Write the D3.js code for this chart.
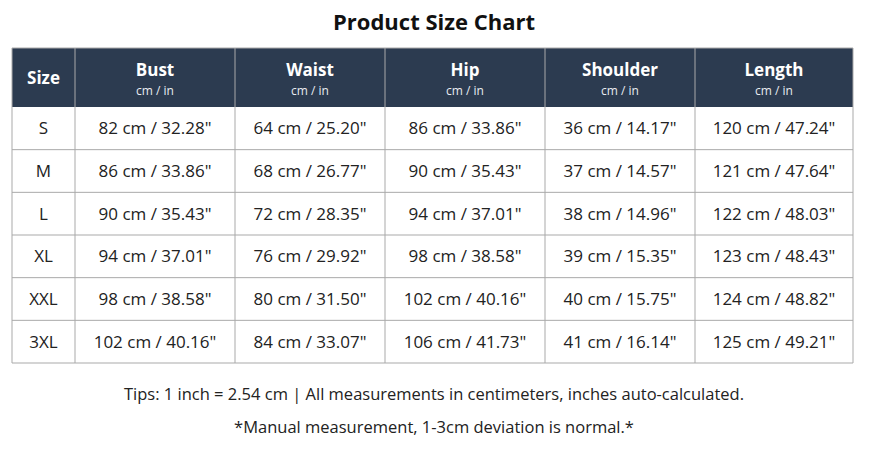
<!DOCTYPE html>
<html><head><meta charset="utf-8">
<script src="https://cdn.jsdelivr.net/npm/d3@7"></script>
<style>body{margin:0;background:#fff}text{font-family:"Open Sans","Noto Sans",sans-serif}</style>
</head><body>
<svg id="chart" width="869" height="456"></svg>
<script>
"use strict";

let columns = ["Size", "Bust", "Waist", "Hip", "Shoulder", "Length"]
let sizes = ["S", "M", "L", "XL", "XXL", "3XL"]
let bust = [82, 86, 90, 94, 98, 102]
let waist = [64, 68, 72, 76, 80, 84]
let hip = [86, 90, 94, 98, 102, 106]
let shoulder = [36, 37, 38, 39, 40, 41]
let length = [120, 121, 122, 123, 124, 125]
let colEdges = [12, 75, 235, 385, 545, 695, 853]

let svg = d3.select("#chart")
let fmt = cm => cm + " cm / " + (cm / 2.54).toFixed(2) + '"'

svg.append("text").attr("x", 434).attr("y", 30).attr("text-anchor", "middle")
  .attr("font-size", 22).attr("font-weight", 700).attr("fill", "#111").text("Product Size Chart")

let tableTop = 48, headH = 59
let y = d3.scaleBand().domain(sizes).range([tableTop + headH, 363])

// header
svg.append("rect").attr("x", 12).attr("y", tableTop).attr("width", 841).attr("height", headH).attr("fill", "#2c3b50")
columns.forEach((c, i) => {
  let cx = (colEdges[i] + colEdges[i + 1]) / 2
  if (i == 0) {
    svg.append("text").attr("x", cx).attr("y", tableTop + 36).attr("text-anchor", "middle")
      .attr("font-size", 17).attr("font-weight", 700).attr("fill", "#fff").text(c)
  } else {
    svg.append("text").attr("x", cx).attr("y", tableTop + 28).attr("text-anchor", "middle")
      .attr("font-size", 17).attr("font-weight", 700).attr("fill", "#fff").text(c)
    svg.append("text").attr("x", cx).attr("y", tableTop + 47).attr("text-anchor", "middle")
      .attr("font-size", 12).attr("fill", "#e8ecf0").text("cm / in")
  }
})

// body rows
let rows = sizes.map((s, i) => [s, fmt(bust[i]), fmt(waist[i]), fmt(hip[i]), fmt(shoulder[i]), fmt(length[i])])
rows.forEach((r, ri) => {
  r.forEach((v, ci) => {
    svg.append("text").attr("x", (colEdges[ci] + colEdges[ci + 1]) / 2)
      .attr("y", y(sizes[ri]) + y.bandwidth() / 2 + 6).attr("text-anchor", "middle")
      .attr("font-size", 17).attr("fill", "#222").text(v)
  })
})

// grid
let g = svg.append("g").attr("stroke", "#a9a9a9").attr("stroke-width", 1)
sizes.forEach(s => g.append("line").attr("x1", 12).attr("x2", 853).attr("y1", y(s) + y.bandwidth()).attr("y2", y(s) + y.bandwidth()))
colEdges.forEach(x => g.append("line").attr("x1", x).attr("x2", x).attr("y1", tableTop).attr("y2", 363))
g.append("line").attr("x1", 12).attr("x2", 853).attr("y1", tableTop).attr("y2", tableTop)

svg.append("text").attr("x", 434).attr("y", 400).attr("text-anchor", "middle").attr("font-size", 16.5).attr("fill", "#222")
  .text("Tips: 1 inch = 2.54 cm | All measurements in centimeters, inches auto-calculated.")
svg.append("text").attr("x", 434).attr("y", 433).attr("text-anchor", "middle").attr("font-size", 16.5).attr("fill", "#222")
  .text("*Manual measurement, 1-3cm deviation is normal.*")
</script>
</body></html>
